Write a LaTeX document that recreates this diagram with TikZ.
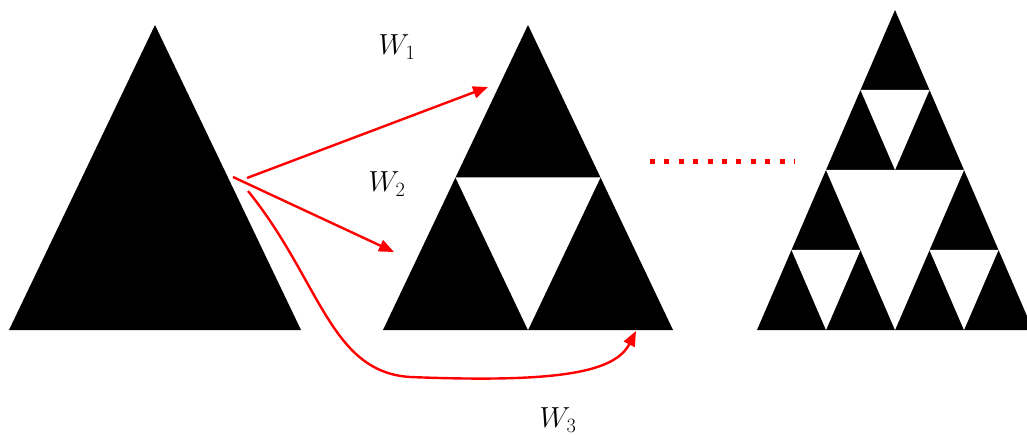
\RequirePackage{fix-cm}
\documentclass[tikz,border=0pt]{standalone}
\usetikzlibrary{arrows.meta}
\begin{document}
\begin{tikzpicture}[x=1pt,y=-1pt,
  tri/.style={fill=black},
  hole/.style={fill=white},
  redarrow/.style={draw=red, line width=2.4pt, -{Triangle[length=15pt,width=12pt]}},
  lbl/.style={font=\fontsize{29}{34}\selectfont, inner sep=0pt}]
\useasboundingbox (0,0) rectangle (1027,435);
\clip (0,0) rectangle (1027,435);
% triangle 1
\fill[tri] (155,25) -- (301,330) -- (9,330) -- cycle;
% triangle 2
\fill[tri] (528,25) -- (673,330) -- (383,330) -- cycle;
\fill[hole] (455.5,177.5) -- (600.5,177.5) -- (528,330) -- cycle;
% triangle 3 (level 2)
\fill[tri] (895,10) -- (1033,330) -- (757,330) -- cycle;
\fill[hole] (826,170) -- (964,170) -- (895,330) -- cycle;
\fill[hole] (860.5,90) -- (929.5,90) -- (895,170) -- cycle;
\fill[hole] (791.5,250) -- (860.5,250) -- (826,330) -- cycle;
\fill[hole] (929.5,250) -- (998.5,250) -- (964,330) -- cycle;
% coordinates
\coordinate (s1) at (247,178);
\coordinate (e1) at (488,87);
\coordinate (s2) at (233,177);
\coordinate (e2) at (394,252);
\coordinate (s3) at (248,191);
\coordinate (m3) at (410,377);
\coordinate (e3) at (636,331);
\draw[redarrow] (s1) -- (e1);
\draw[redarrow] (s2) -- (e2);
\draw[redarrow] (s3) .. controls (320,280) and (330,372) .. (m3) .. controls (560,383) and (615,372) .. (e3);
% dotted line
\coordinate (d1) at (650,162);
\coordinate (d2) at (795,162);
\draw[red, line width=5pt, dash pattern=on 5pt off 9.4pt] (d1) -- (d2);
% labels
\node[lbl] (w1) at (397,47) {$W_1$};
\node[lbl] (w2) at (387,184) {$W_2$};
\node[lbl] (w3) at (558,420) {$W_3$};
\end{tikzpicture}
\end{document}
